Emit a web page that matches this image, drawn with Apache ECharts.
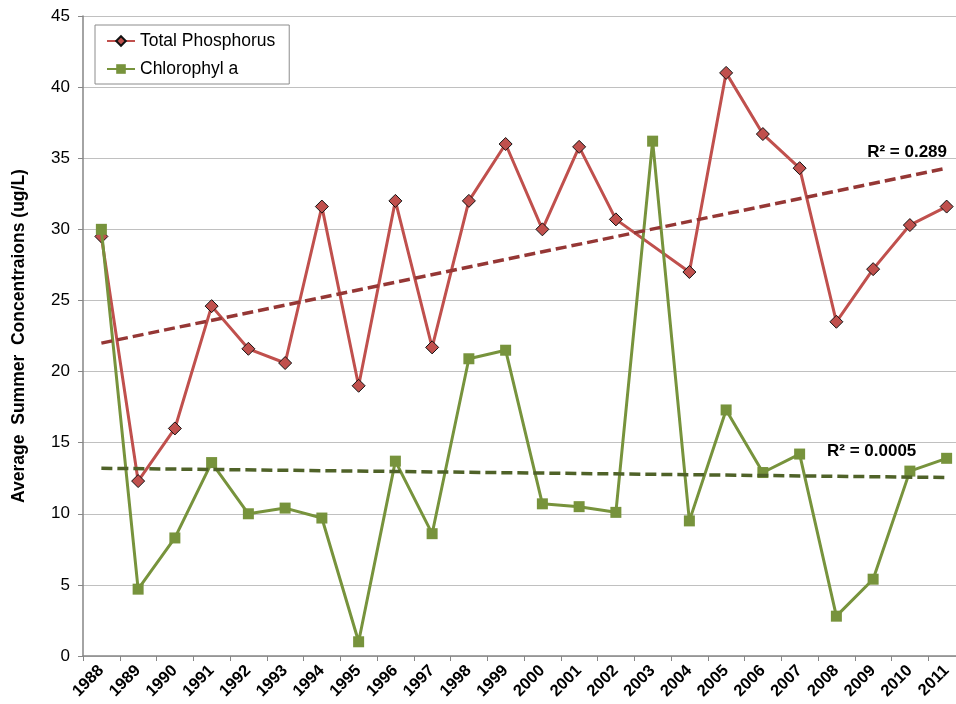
<!DOCTYPE html>
<html>
<head>
    <meta charset="utf-8">
    <title>Summer Concentrations</title>
    <script src="https://cdn.jsdelivr.net/npm/echarts@6/dist/echarts.min.js"></script>
    <style>
        html, body { margin: 0; height: 100%; background: #fff; }
        #chart { width: 956px; height: 704px; }
    </style>
</head>
<body>
    <div id="chart"></div>
    <script>
        // data
        var years = ['1988', '1989', '1990', '1991', '1992', '1993', '1994', '1995', '1996', '1997', '1998', '1999',
                     '2000', '2001', '2002', '2003', '2004', '2005', '2006', '2007', '2008', '2009', '2010', '2011'];
        var totalPhosphorus = [29.5, 12.3, 16.0, 24.6, 21.6, 20.6, 31.6, 19.0, 32.0, 21.7, 32.0, 36.0,
                               30.0, 35.8, 30.7, null, 27.0, 41.0, 36.7, 34.3, 23.5, 27.2, 30.3, 31.6];
        var chlorophyll = [30.0, 4.7, 8.3, 13.6, 10.0, 10.4, 9.7, 1.0, 13.7, 8.6, 20.9, 21.5,
                           10.7, 10.5, 10.1, 36.2, 9.5, 17.3, 12.9, 14.2, 2.8, 5.4, 13.0, 13.9];
        // trendline ends (first year, last year)
        var tpTrend = [22.0, 34.3];
        var chlTrend = [13.2, 12.55];
        var yTicks = { min: 0, max: 45, step: 5 };

        var font = 'Liberation Sans, Arial, sans-serif';
        var first = years[0], last = years[years.length - 1];

        var chart = echarts.init(document.getElementById('chart'), null, { renderer: 'canvas' });

        chart.setOption({
            animation: false,
            textStyle: { fontFamily: font },
            // plot runs past the right edge, like the cropped original
            grid: { left: 83, top: 16, width: 882, height: 640, containLabel: false, outerBoundsMode: 'none' },
            legend: {
                orient: 'vertical',
                left: 95,
                top: 25,
                padding: [7, 14, 6, 11],
                itemWidth: 28,
                itemHeight: 12,
                itemGap: 10,
                backgroundColor: '#fff',
                borderColor: '#8c8c8c',
                borderWidth: 1,
                data: ['Total Phosphorus', 'Chlorophyl a'],
                textStyle: { fontSize: 17.5, color: '#000', fontFamily: font }
            },
            xAxis: {
                type: 'category',
                data: years,
                boundaryGap: true,
                axisLine: { lineStyle: { color: '#868686', width: 1.5 } },
                axisTick: { show: true, interval: 0, length: 5, lineStyle: { color: '#868686' } },
                axisLabel: {
                    interval: 0, rotate: 45, margin: 12,
                    fontSize: 16.5, fontWeight: 'bold', color: '#000', fontFamily: font
                },
                splitLine: { show: false }
            },
            yAxis: {
                type: 'value',
                min: yTicks.min,
                max: yTicks.max,
                interval: yTicks.step,
                name: 'Average  Summer  Concentraions (ug/L)',
                nameLocation: 'middle',
                nameRotate: 90,
                nameGap: 55,
                nameTextStyle: { fontSize: 17.5, fontWeight: 'bold', color: '#000', fontFamily: font },
                axisLine: { show: true, lineStyle: { color: '#868686', width: 1.5 } },
                axisTick: { show: true, length: 5, lineStyle: { color: '#868686' } },
                axisLabel: { fontSize: 17, color: '#000', margin: 13, fontFamily: font },
                splitLine: { lineStyle: { color: '#c0c0c0', width: 1 } }
            },
            series: [
                {
                    name: 'Total Phosphorus',
                    type: 'line',
                    data: totalPhosphorus,
                    connectNulls: true,
                    symbol: 'diamond',
                    symbolSize: 13,
                    itemStyle: { color: '#c0504d', borderColor: '#111', borderWidth: 1 },
                    lineStyle: { color: '#c0504d', width: 3 },
                    z: 2
                },
                {
                    name: 'Chlorophyl a',
                    type: 'line',
                    data: chlorophyll,
                    symbol: 'rect',
                    symbolSize: 11,
                    itemStyle: { color: '#77933c', borderWidth: 0 },
                    lineStyle: { color: '#77933c', width: 3 },
                    z: 3
                },
                {
                    name: 'tp trend',
                    type: 'line',
                    data: [[first, tpTrend[0]], [last, tpTrend[1]]],
                    symbol: 'none',
                    silent: true,
                    lineStyle: { color: '#953735', width: 3.5, type: [11, 5] },
                    z: 4
                },
                {
                    name: 'chl trend',
                    type: 'line',
                    data: [[first, chlTrend[0]], [last, chlTrend[1]]],
                    symbol: 'none',
                    silent: true,
                    lineStyle: { color: '#4f6228', width: 3.5, type: [11, 5] },
                    z: 4
                }
            ],
            graphic: [
                {
                    type: 'text', right: 9, top: 144,
                    style: { text: 'R² = 0.289', font: 'bold 17px ' + font, fill: '#000' }
                },
                {
                    type: 'text', left: 827, top: 443,
                    style: { text: 'R² = 0.0005', font: 'bold 17px ' + font, fill: '#000' }
                }
            ]
        });
    </script>
</body>
</html>
